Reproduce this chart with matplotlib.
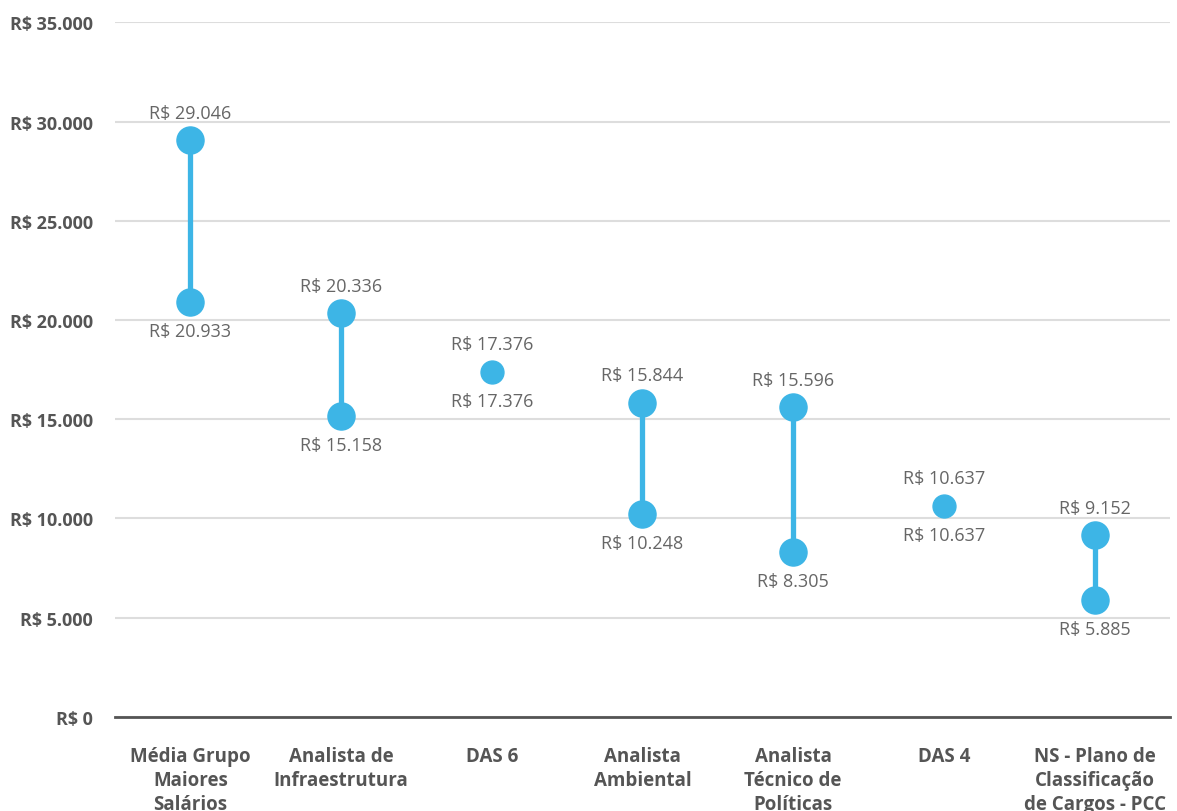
import matplotlib
matplotlib.use("Agg")
import matplotlib.pyplot as plt
from matplotlib.ticker import FuncFormatter

plt.rcParams['font.family'] = ['Open Sans', 'DejaVu Sans']

# categories and min/max values
categorias = [
    'Média Grupo\nMaiores\nSalários',
    'Analista de\nInfraestrutura',
    'DAS 6',
    'Analista\nAmbiental',
    'Analista\nTécnico de\nPolíticas',
    'DAS 4',
    'NS - Plano de\nClassificação\nde Cargos - PCC',
]
maximo = [29046, 20336, 17376, 15844, 15596, 10637, 9152]
minimo = [20933, 15158, 17376, 10248, 8305, 10637, 5885]

azul = '#3DB5E6'
cinza = '#555555'


def brl(v):
    return 'R$ ' + f'{v:,.0f}'.replace(',', '.')


fig = plt.figure(figsize=(11.77, 8.12), dpi=100)
ax = fig.add_axes([0.0977, 0.1158, 0.8963, 0.8555])

x = range(len(categorias))
for i in x:
    lo, hi = minimo[i], maximo[i]
    if lo != hi:
        ax.plot([i, i], [lo, hi], color=azul, lw=3.8, zorder=3, solid_capstyle='butt')
        ax.plot([i, i], [lo, hi], 'o', color=azul, ms=19.5, zorder=4)
    else:
        ax.plot([i], [hi], 'o', color=azul, ms=16.5, zorder=4)
    ax.annotate(brl(hi), (i, hi), xytext=(0, 20), textcoords='offset points',
                ha='center', va='center', fontsize=13, color='#666666')
    ax.annotate(brl(lo), (i, lo), xytext=(0, -21), textcoords='offset points',
                ha='center', va='center', fontsize=13, color='#666666')

ax.set_xlim(-0.5, len(categorias) - 0.5)
ax.set_ylim(0, 35000)
ax.set_yticks(range(0, 35001, 5000))
ax.yaxis.set_major_formatter(FuncFormatter(lambda v, p: brl(v)))
ax.set_xticks(list(x))
ax.set_xticklabels(categorias, fontsize=13.5, fontweight='bold', color=cinza,
                   linespacing=1.25, va='top')
for lab in ax.get_yticklabels():
    lab.set_fontsize(13)
    lab.set_fontweight('bold')
    lab.set_color(cinza)

ax.tick_params(axis='both', length=0)
ax.tick_params(axis='x', pad=21)
ax.tick_params(axis='y', pad=16)
ax.grid(axis='y', color='#dddddd', lw=1.5)
ax.set_axisbelow(True)
for s in ['top', 'right', 'left']:
    ax.spines[s].set_visible(False)
ax.spines['bottom'].set_color(cinza)
ax.spines['bottom'].set_linewidth(2)
ax.spines['bottom'].set_zorder(5)

fig.savefig('out.png', dpi=100, facecolor='white')
